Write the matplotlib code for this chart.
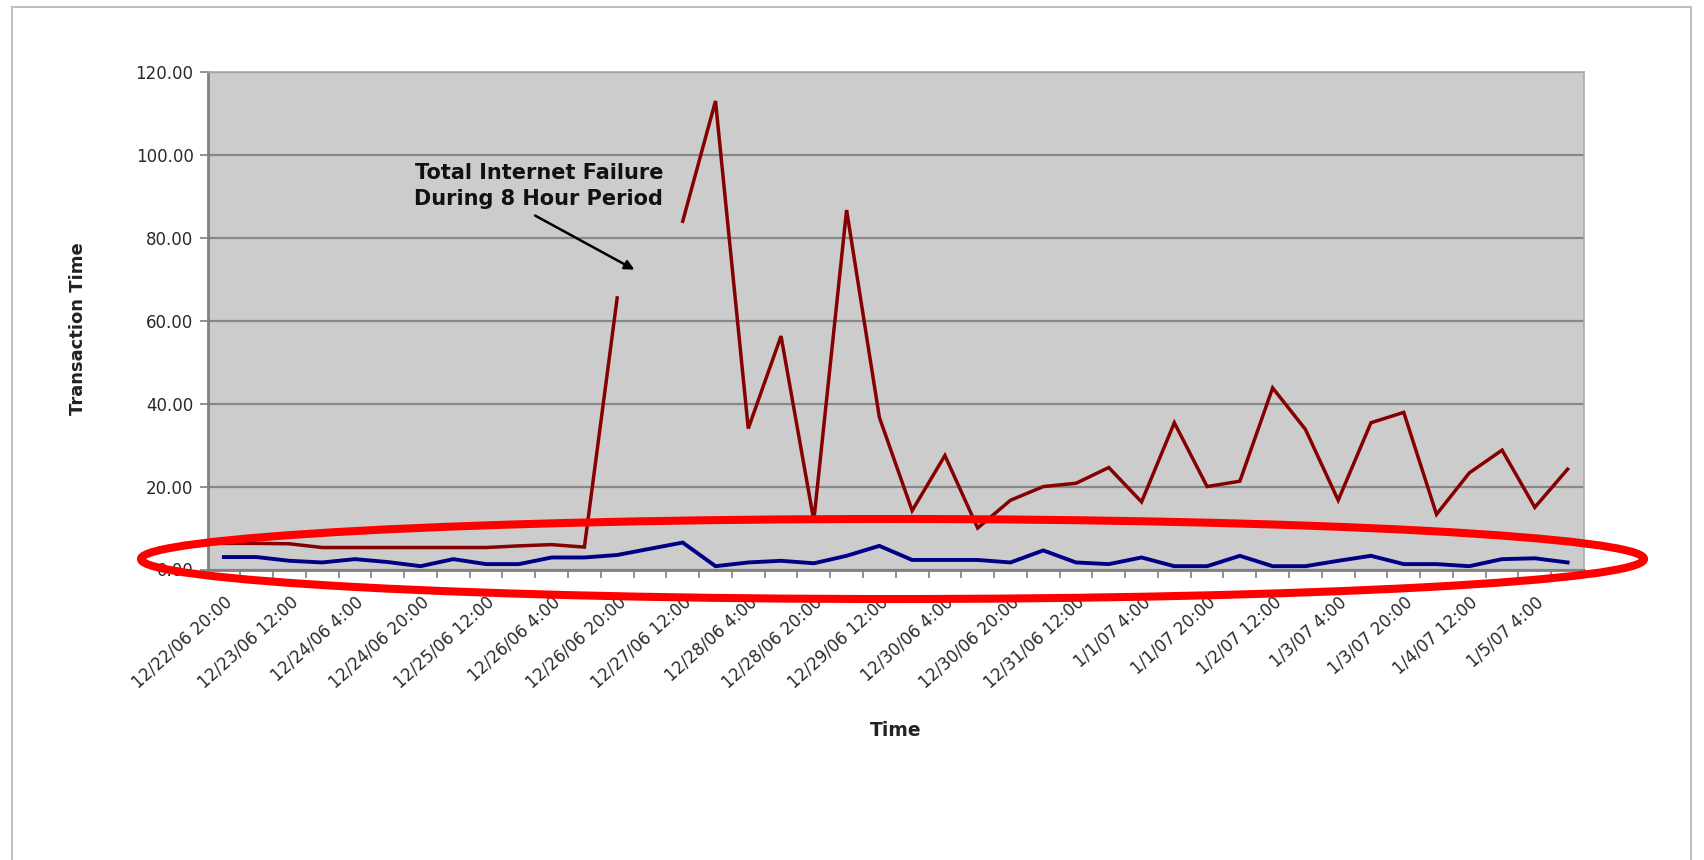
import numpy as np
import matplotlib
matplotlib.use('Agg')
import matplotlib.pyplot as plt
from matplotlib.patches import Ellipse, Rectangle

# transaction time, sampled every 8 hours from 12/22/06 20:00
red = [6.3, 6.3, 6.2, 5.3, 5.3, 5.3, 5.3, 5.3, 5.3, 5.7, 6.0, 5.4,
       65.5, np.nan, 84.0, 113.0, 34.0, 56.3, 11.8, 86.7, 36.7, 14.2,
       27.5, 10.0, 16.7, 20.0, 20.8, 24.6, 16.3, 35.4, 20.0, 21.3,
       43.8, 33.8, 16.7, 35.4, 37.9, 13.3, 23.3, 28.8, 15.0, 24.2]
blue = [3.0, 3.0, 2.1, 1.7, 2.5, 1.8, 0.8, 2.5, 1.3, 1.3, 2.9, 2.9,
        3.5, 5.0, 6.5, 0.8, 1.7, 2.1, 1.5, 3.3, 5.7, 2.3, 2.3, 2.3,
        1.7, 4.6, 1.7, 1.3, 2.9, 0.8, 0.8, 3.3, 0.8, 0.8, 2.1, 3.3,
        1.3, 1.3, 0.8, 2.5, 2.7, 1.7]
tick_labels = ['12/22/06 20:00', '12/23/06 12:00', '12/24/06 4:00', '12/24/06 20:00',
               '12/25/06 12:00', '12/26/06 4:00', '12/26/06 20:00', '12/27/06 12:00',
               '12/28/06 4:00', '12/28/06 20:00', '12/29/06 12:00', '12/30/06 4:00',
               '12/30/06 20:00', '12/31/06 12:00', '1/1/07 4:00', '1/1/07 20:00',
               '1/2/07 12:00', '1/3/07 4:00', '1/3/07 20:00', '1/4/07 12:00', '1/5/07 4:00']
yticks = [0, 20, 40, 60, 80, 100, 120]

W, H = 1704, 860
fig = plt.figure(figsize=(W / 100, H / 100), dpi=100)
ax = fig.add_axes([207.5 / W, 1 - 569.5 / H, (1584 - 207.5) / W, (569.5 - 72) / H])
ax.set_facecolor('#cccccc')

x = np.arange(len(red))
ax.plot(x, red, color='#860000', lw=2.5, solid_joinstyle='miter')
ax.plot(x, blue, color='#000086', lw=2.8, solid_joinstyle='miter')

ax.set_xlim(-0.5, len(red) - 0.5)
ax.set_ylim(0, 120)
ax.set_yticks(yticks)
ax.set_yticklabels([f'{v:.2f}' for v in yticks], fontsize=12, color='#2a2a2a')
ax.yaxis.grid(True, color='#888888', lw=1.6)
ax.set_axisbelow(True)

ax.set_xticks(x[::2])
ax.set_xticklabels(tick_labels, rotation=42, ha='right', rotation_mode='anchor',
                   fontsize=12, color='#2a2a2a')
ax.set_xticks(np.arange(-0.5, len(red), 1), minor=True)
ax.tick_params(axis='x', which='major', length=0, pad=17)
ax.tick_params(axis='x', which='minor', length=6, width=1.3, color='#888888')
ax.tick_params(axis='y', length=6, width=1.3, color='#888888', pad=4)

for side in ['top', 'right']:
    ax.spines[side].set_color('#aaaaaa')
    ax.spines[side].set_linewidth(1.2)
for side in ['left', 'bottom']:
    ax.spines[side].set_color('#808080')
    ax.spines[side].set_linewidth(2)

ax.text(9.61, 92.5, 'Total Internet Failure\nDuring 8 Hour Period', ha='center', va='center',
        fontsize=15, fontweight='bold', color='#111111', linespacing=1.4)
ax.annotate('', xy=(12.6, 72.0), xytext=(9.42, 85.7),
            arrowprops=dict(arrowstyle='-|>', color='black', lw=1.8, mutation_scale=14))

fig.text(78 / W, 1 - 329 / H, 'Transaction Time', rotation=90, ha='center', va='center',
         fontsize=13, fontweight='bold', color='#222222')
fig.text(896 / W, 1 - 730 / H, 'Time', ha='center', va='center',
         fontsize=13.5, fontweight='bold', color='#222222')

# outer chart frame
fig.add_artist(Rectangle((12 / W, -0.1), (1691 - 12) / W, 1.1 - 7 / H, fill=False,
                         ec='#c0c0c0', lw=1.5, transform=fig.transFigure))

# red highlight ellipse
fig.add_artist(Ellipse((892.5 / W, 1 - 559 / H), 1503 / W, 80 / H, fill=False,
                       ec='#ff0000', lw=5.8, transform=fig.transFigure))

fig.savefig('out.png', dpi=100)
